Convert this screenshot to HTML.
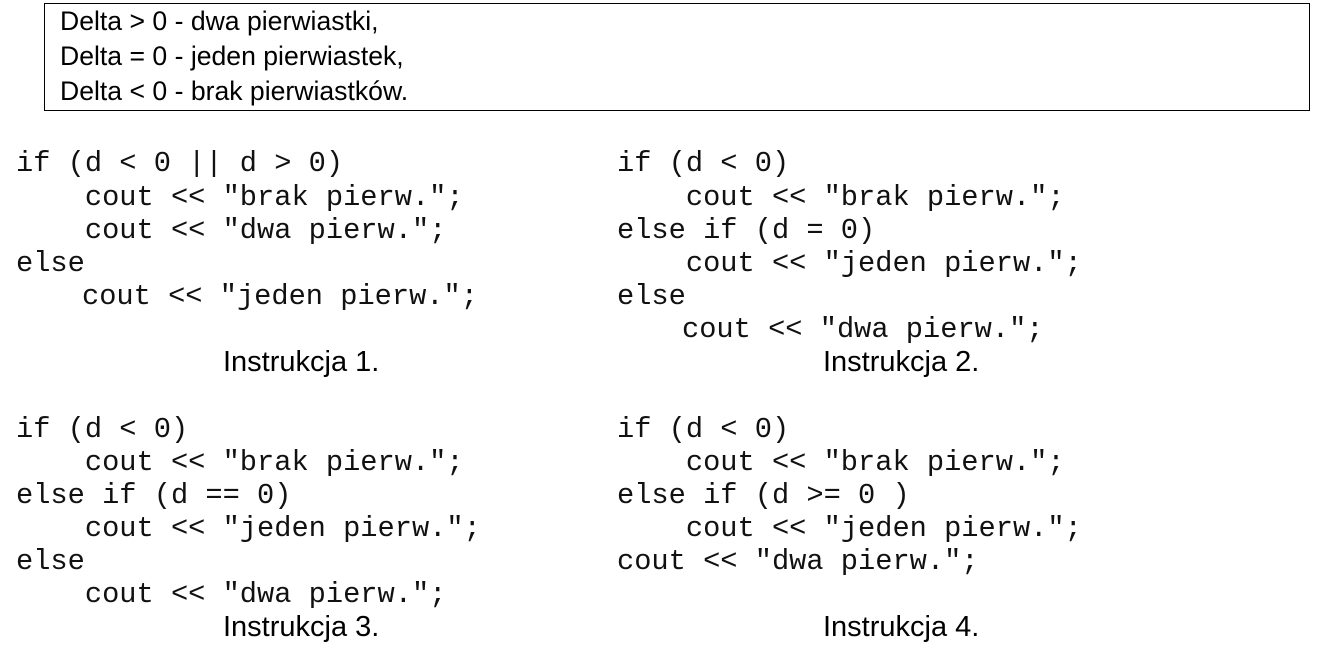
<!DOCTYPE html>
<html><head><meta charset="utf-8">
<style>
html,body{margin:0;padding:0;background:#fff;}
body{width:1317px;height:659px;position:relative;overflow:hidden;color:#000;}
.box{position:absolute;left:44px;top:3px;width:1266px;height:108px;border:1.5px solid #000;box-sizing:border-box;}
.t{position:absolute;font-family:"Liberation Sans",Arial,sans-serif;font-size:26.6px;line-height:33px;white-space:pre;}
.l{position:absolute;font-family:"Liberation Sans",Arial,sans-serif;font-size:29px;line-height:33px;white-space:pre;}
.c{position:absolute;font-family:"Liberation Mono","Courier New",monospace;font-size:28.7px;line-height:33px;white-space:pre;color:#111;}
</style></head><body>
<div class="box"></div>
<div class="t" style="left:60px;top:5px">Delta &gt; 0 - dwa pierwiastki,</div>
<div class="t" style="left:60px;top:40px">Delta = 0 - jeden pierwiastek,</div>
<div class="t" style="left:60px;top:75px">Delta &lt; 0 - brak pierwiastków.</div>

<div>
<div class="c" style="left:16px;top:147px">if (d &lt; 0 || d &gt; 0)</div>
<div class="c" style="left:16px;top:181px">    cout &lt;&lt; "brak pierw.";</div>
<div class="c" style="left:16px;top:214px">    cout &lt;&lt; "dwa pierw.";</div>
<div class="c" style="left:16px;top:247px">else</div>
<div class="c" style="left:82px;top:280px">cout &lt;&lt; "jeden pierw.";</div>
</div>
<div class="l" style="left:223px;top:346px">Instrukcja 1.</div>

<div>
<div class="c" style="left:617px;top:147px">if (d &lt; 0)</div>
<div class="c" style="left:617px;top:181px">    cout &lt;&lt; "brak pierw.";</div>
<div class="c" style="left:617px;top:214px">else if (d = 0)</div>
<div class="c" style="left:617px;top:247px">    cout &lt;&lt; "jeden pierw.";</div>
<div class="c" style="left:617px;top:280px">else</div>
<div class="c" style="left:682px;top:313px">cout &lt;&lt; "dwa pierw.";</div>
</div>
<div class="l" style="left:823px;top:346px">Instrukcja 2.</div>

<div>
<div class="c" style="left:16px;top:413px">if (d &lt; 0)</div>
<div class="c" style="left:16px;top:446px">    cout &lt;&lt; "brak pierw.";</div>
<div class="c" style="left:16px;top:479px">else if (d == 0)</div>
<div class="c" style="left:16px;top:512px">    cout &lt;&lt; "jeden pierw.";</div>
<div class="c" style="left:16px;top:545px">else</div>
<div class="c" style="left:16px;top:578px">    cout &lt;&lt; "dwa pierw.";</div>
</div>
<div class="l" style="left:223px;top:611px">Instrukcja 3.</div>

<div>
<div class="c" style="left:617px;top:413px">if (d &lt; 0)</div>
<div class="c" style="left:617px;top:446px">    cout &lt;&lt; "brak pierw.";</div>
<div class="c" style="left:617px;top:479px">else if (d &gt;= 0 )</div>
<div class="c" style="left:617px;top:512px">    cout &lt;&lt; "jeden pierw.";</div>
<div class="c" style="left:617px;top:545px">cout &lt;&lt; "dwa pierw.";</div>
</div>
<div class="l" style="left:823px;top:611px">Instrukcja 4.</div>
</body></html>
